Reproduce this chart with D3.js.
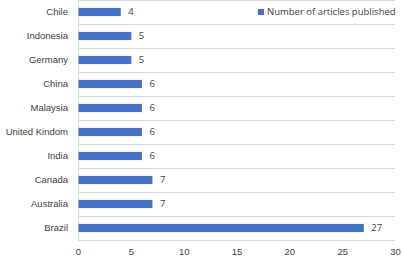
<!DOCTYPE html>
<html>
<head>
<meta charset="utf-8">
<script src="https://cdn.jsdelivr.net/npm/d3@7"></script>
<style>
  html, body { margin: 0; padding: 0; background: #fff; }
  svg { display: block; font-family: "Open Sans", "Noto Sans", sans-serif; }
  .axis text { fill: #404040; font-size: 9.5px; }
  .val { fill: #404040; font-size: 9.5px; }
  .legend text { fill: #404040; font-size: 9.5px; }
</style>
</head>
<body>
<div id="chart"></div>
<script>
// các quốc gia (trên xuống dưới) và số bài báo
const countries = ["Chile", "Indonesia", "Germany", "China", "Malaysia",
                   "United Kindom", "India", "Canada", "Australia", "Brazil"];
const articles  = [4, 5, 5, 6, 6, 6, 6, 7, 7, 27];
const xTicks    = [0, 5, 10, 15, 20, 25, 30];
const seriesName = "Number of articles published";

const width = 402, height = 256;
const margin = { top: 0, right: 7, bottom: 16, left: 78 };
const innerW = width - margin.left - margin.right;
const innerH = 240;

const svg = d3.select("#chart").append("svg")
  .attr("width", width).attr("height", height);

const g = svg.append("g")
  .attr("transform", `translate(${margin.left},${margin.top})`);

const x = d3.scaleLinear().domain([0, 30]).range([0, innerW]);
const y = d3.scaleBand().domain(countries).range([0, innerH]).paddingInner(0.66).paddingOuter(0.33);

// đường kẻ ngang giữa các hạng mục
g.selectAll("line.grid")
  .data(d3.range(countries.length + 1))
  .join("line")
  .attr("class", "grid")
  .attr("x1", 0).attr("x2", innerW)
  .attr("y1", i => 0.5 + i * innerH / countries.length)
  .attr("y2", i => 0.5 + i * innerH / countries.length)
  .attr("stroke", "#d9d9d9").attr("stroke-width", 1);

// trục dọc
g.append("line")
  .attr("x1", 0.5).attr("x2", 0.5)
  .attr("y1", 0).attr("y2", innerH + 0.5)
  .attr("stroke", "#d9d9d9");

// trục Y (nhãn quốc gia)
g.append("g")
  .attr("class", "axis axis-y")
  .attr("transform", "translate(-10,0)")
  .call(d3.axisLeft(y).tickSize(0).tickPadding(0))
  .call(a => a.select(".domain").remove());

// trục X
g.append("g")
  .attr("class", "axis axis-x")
  .attr("transform", `translate(0,${innerH})`)
  .call(d3.axisBottom(x).tickValues(xTicks).tickSize(0).tickPadding(8))
  .call(a => a.select(".domain").remove());

// cột
g.selectAll("rect.bar")
  .data(countries)
  .join("rect")
  .attr("class", "bar")
  .attr("x", 0.5)
  .attr("y", d => y(d))
  .attr("width", (d, i) => x(articles[i]))
  .attr("height", y.bandwidth())
  .attr("fill", "#4472C4");

// nhãn giá trị
g.selectAll("text.val")
  .data(countries)
  .join("text")
  .attr("class", "val")
  .attr("x", (d, i) => x(articles[i]) + 8)
  .attr("y", d => y(d) + y.bandwidth() / 2)
  .attr("dy", "0.35em")
  .text((d, i) => articles[i]);

// chú thích
const lg = svg.append("g").attr("class", "legend")
  .attr("transform", "translate(258,12)");
lg.append("rect").attr("x", 0).attr("y", -3).attr("width", 6).attr("height", 6).attr("fill", "#4472C4");
lg.append("text").attr("x", 9).attr("dy", "0.35em").text(seriesName);
</script>
</body>
</html>
